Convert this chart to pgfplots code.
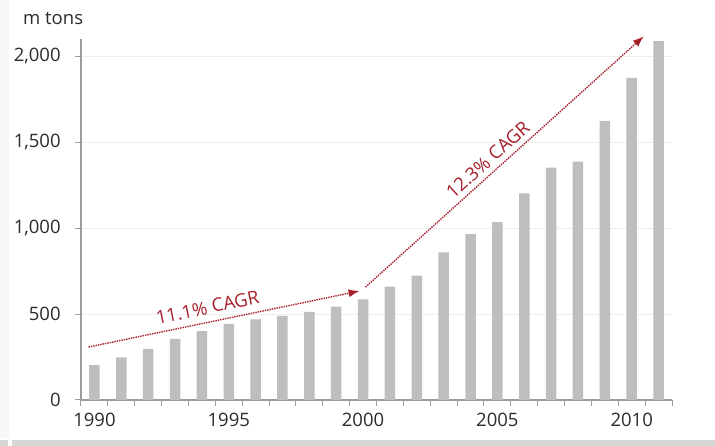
\documentclass[border=0pt]{standalone}
\usepackage{pgfplots}
\pgfplotsset{compat=1.18}
\usepackage{fontspec}
\setmainfont{Open Sans}
\usetikzlibrary{arrows.meta}

\definecolor{bargray}{HTML}{BEBEBE}
\definecolor{axisgray}{HTML}{9C9C9C}
\definecolor{gridgray}{HTML}{EDEDED}
\definecolor{cagr}{HTML}{A8202C}
\definecolor{labelgray}{HTML}{2B2B2B}
\definecolor{framegray}{HTML}{D6D6D6}

% annual volume, million tons
\pgfplotstableread{
year value
1990 203
1991 248
1992 297
1993 355
1994 401
1995 443
1996 469
1997 490
1998 513
1999 543
2000 585
2001 659
2002 723
2003 859
2004 965
2005 1035
2006 1202
2007 1351
2008 1386
2009 1624
2010 1874
2011 2087
}\volume

\begin{document}
\fontsize{18.5pt}{22pt}\selectfont
\begin{tikzpicture}
\useasboundingbox (0,0) rectangle (715pt,446pt);
\fill[white] (0,0) rectangle (715pt,446pt);
\fill[framegray] (12pt,0) rectangle (715pt,6pt);
\fill[framegray] (0,0) rectangle (8pt,6pt);
\fill[gray!6] (0,8pt) rectangle (9pt,446pt);

\begin{axis}[
  at={(81pt,46pt)}, anchor=south west,
  scale only axis, width=591pt, height=361pt,
  xmin=1989.5, xmax=2011.5,
  ymin=0, ymax=2100,
  axis x line*=bottom, axis y line*=left,
  axis line style={axisgray, line width=1.2pt},
  clip=false,
  tick align=outside,
  xtick={1990,1995,2000,2005,2010},
  xticklabels={1990,1995,2000,2005,2010},
  major x tick style={draw=none},
  minor xtick={1989.5,1990.5,1991.5,1992.5,1993.5,1994.5,1995.5,1996.5,1997.5,1998.5,1999.5,2000.5,2001.5,2002.5,2003.5,2004.5,2005.5,2006.5,2007.5,2008.5,2009.5,2010.5,2011.5},
  minor tick length=6pt,
  minor x tick style={axisgray, line width=1pt},
  ytick={0,500,1000,1500,2000},
  major tick length=6pt,
  y tick style={axisgray, line width=1pt},
  ymajorgrids,
  grid style={gridgray, line width=0.8pt},
  /pgf/number format/assume math mode=true,
  /pgf/number format/1000 sep={,},
  tick label style={labelgray, font=\fontsize{18.5pt}{22pt}\selectfont},
  xticklabel style={yshift=-1pt},
  yticklabel style={xshift=-8pt},
  ybar, bar width=10.5pt,
]
\addplot[fill=bargray, draw=none] table[x=year, y=value] {\volume};

\addplot[sharp plot, cagr, dash pattern=on 1.4pt off 1pt, line width=1.4pt,
  -{Latex[length=11pt,width=8pt]}]
  coordinates {(1989.78,308) (1999.87,634)}
  node[pos=0.45, sloped, above=1pt, text=cagr,
       font=\fontsize{18.5pt}{22pt}\selectfont] {11.1\% CAGR};

\addplot[sharp plot, cagr, dash pattern=on 1.4pt off 1pt, line width=1.4pt,
  -{Latex[length=11pt,width=8pt]}]
  coordinates {(2000.09,657) (2010.45,2116)}
  node[pos=0.47, sloped, above=-1pt, text=cagr,
       font=\fontsize{18.5pt}{22pt}\selectfont] {12.3\% CAGR};
\end{axis}

\node[anchor=base west, text=labelgray, inner sep=0pt] at (23pt,421pt) {m tons};
\end{tikzpicture}
\end{document}
